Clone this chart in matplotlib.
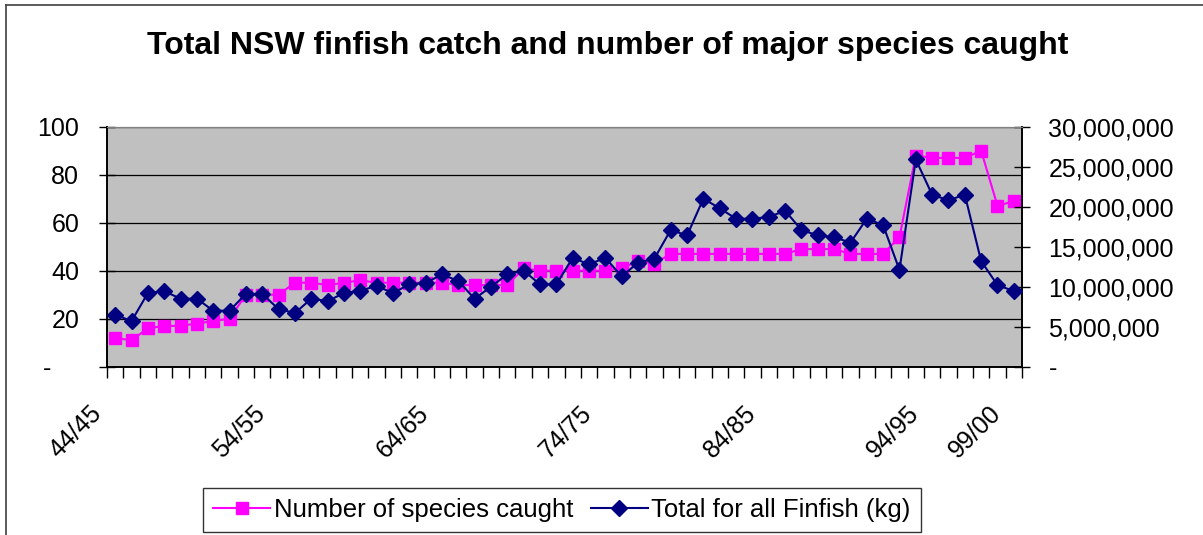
import matplotlib
matplotlib.use('Agg')
import matplotlib.pyplot as plt
import matplotlib.ticker as mticker
from matplotlib.lines import Line2D
from matplotlib.transforms import ScaledTranslation
import numpy as np

plt.rcParams['font.family'] = ['Liberation Sans', 'DejaVu Sans']

seasons = ['44/45', '45/46', '46/47', '47/48', '48/49', '49/50', '50/51', '51/52',
           '52/53', '53/54', '54/55', '55/56', '56/57', '57/58', '58/59', '59/60',
           '60/61', '61/62', '62/63', '63/64', '64/65', '65/66', '66/67', '67/68',
           '68/69', '69/70', '70/71', '71/72', '72/73', '73/74', '74/75', '75/76',
           '76/77', '77/78', '78/79', '79/80', '80/81', '81/82', '82/83', '83/84',
           '84/85', '85/86', '86/87', '87/88', '88/89', '89/90', '90/91', '91/92',
           '92/93', '93/94', '94/95', '95/96', '96/97', '97/98', '98/99', '99/00']
shown_labels = ['44/45', '54/55', '64/65', '74/75', '84/85', '94/95', '99/00']

# number of major species caught (left axis)
species = [12, 11, 16, 17, 17, 18, 19, 20, 30, 30, 30, 35, 35, 34, 35, 36,
           35, 35, 35, 35, 35, 34, 34, 34, 34, 41, 40, 40, 40, 40, 40, 41,
           44, 43, 47, 47, 47, 47, 47, 47, 47, 47, 49, 49, 49, 47, 47, 47,
           54, 88, 87, 87, 87, 90, 67, 69]

# total finfish catch in kg (right axis)
catch_kg = [6500000, 5700000, 9200000, 9450000, 8500000, 8500000, 7000000, 7000000,
            9100000, 9100000, 7200000, 6700000, 8500000, 8200000, 9200000, 9500000,
            10100000, 9200000, 10300000, 10450000, 11550000, 10700000, 8500000, 10000000,
            11550000, 12000000, 10300000, 10300000, 13600000, 12800000, 13600000, 11300000,
            13000000, 13500000, 17100000, 16400000, 21000000, 19800000, 18500000, 18500000,
            18700000, 19500000, 17100000, 16400000, 16200000, 15500000, 18500000, 17700000,
            12100000, 25900000, 21500000, 20800000, 21500000, 13200000, 10200000, 9450000]

x = np.arange(len(seasons))

fig = plt.figure(figsize=(12.03, 5.35), dpi=100)
ax = fig.add_axes([107 / 1203, 1 - 366.7 / 535, (1022 - 107) / 1203, 240 / 535])
ax.set_facecolor('#c0c0c0')

ax.plot(x, species, color='#ff00ff', marker='s', markersize=8.2, linewidth=1.5,
        label='Number of species caught', zorder=3)
ax.set_xlim(-0.5, len(seasons) - 0.5)
ax.set_ylim(0, 100)
ax.set_yticks(np.arange(0, 101, 20))
ax.yaxis.set_major_formatter(mticker.FuncFormatter(
    lambda v, p: '-    ' if v == 0 else f'{v:.0f}'))
ax.grid(axis='y', color='black', linewidth=0.9)
ax.set_axisbelow(True)
ax.tick_params(axis='y', direction='inout', length=12, width=1, labelsize=18, pad=14)

# category boundaries get the tick marks, centres carry the labels
ax.set_xticks(np.arange(-0.5, len(seasons), 1), minor=True)
ax.set_xticks([seasons.index(s) for s in shown_labels])
ax.set_xticklabels(shown_labels, rotation=45, ha='right', va='top')
ax.tick_params(axis='x', which='major', length=0, labelsize=18, pad=25)
ax.tick_params(axis='x', which='minor', direction='out', length=8, width=1)
for lab in ax.get_xticklabels():
    lab.set_transform(lab.get_transform() + ScaledTranslation(-6 / 72, 0, fig.dpi_scale_trans))

ax2 = ax.twinx()
ax2.plot(x, catch_kg, color='#000080', marker='D', markersize=8, linewidth=1.5,
         label='Total for all Finfish (kg)', zorder=3)
ax2.set_ylim(0, 30000000)
ax2.set_yticks(np.arange(0, 30000001, 5000000))
ax2.yaxis.set_major_formatter(mticker.FuncFormatter(
    lambda v, p: '-' if v == 0 else f'{v:,.0f}'))
ax2.tick_params(axis='y', direction='inout', length=12, width=1, labelsize=18, pad=13)

for a in (ax, ax2):
    a.spines['top'].set_color('#808080')
    a.spines['left'].set_linewidth(1.2)
    a.spines['right'].set_linewidth(1.2)
    a.spines['bottom'].set_linewidth(1.2)

fig.text(0.505, 0.914, 'Total NSW finfish catch and number of major species caught',
         ha='center', va='center', fontsize=23, fontweight='bold')

h1, l1 = ax.get_legend_handles_labels()
h2, l2 = ax2.get_legend_handles_labels()
leg = fig.legend(h1 + h2, l1 + l2, loc='center', bbox_to_anchor=(562 / 1203, 1 - 510 / 535),
                 ncol=2, fontsize=18.5, frameon=True, fancybox=False, handlelength=2.2,
                 handletextpad=0.15, columnspacing=0.7, borderpad=0.38, borderaxespad=0)
leg.get_frame().set_edgecolor('black')
leg.get_frame().set_linewidth(1)

# outer chart border (top and left edges are visible)
fig.add_artist(Line2D([6 / 1203, 6 / 1203], [0, 1 - 5 / 535], color='#404040', linewidth=1.2))
fig.add_artist(Line2D([6 / 1203, 1], [1 - 5 / 535, 1 - 5 / 535], color='#404040', linewidth=1.2))

fig.savefig('out.png', dpi=100)
